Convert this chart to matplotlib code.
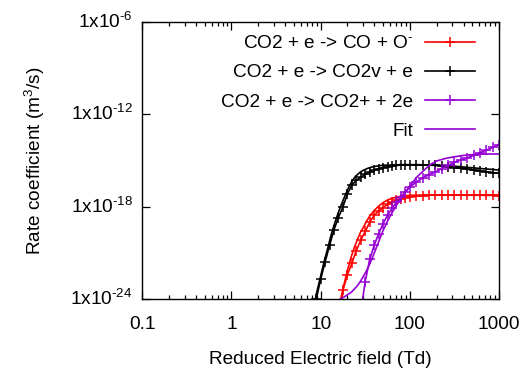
import numpy as np
import matplotlib
matplotlib.use("Agg")
import matplotlib.pyplot as plt
from matplotlib.ticker import FixedLocator, LogLocator, NullFormatter, NullLocator

plt.rcParams['font.family'] = ['Liberation Sans', 'DejaVu Sans']
plt.rcParams['mathtext.fontset'] = 'custom'
plt.rcParams['mathtext.rm'] = 'Liberation Sans'
plt.rcParams['mathtext.it'] = 'Liberation Sans:italic'
plt.rcParams['mathtext.default'] = 'regular'

# ---- data (reduced field in Td, rate coefficients as log10 of m^3/s) ----
E_data = [7.94, 8.91, 10.0, 11.2, 12.6, 14.1, 15.8, 17.8, 20.0, 22.4, 25.1, 28.2,
          31.6, 35.5, 39.8, 44.7, 50.1, 56.2, 63.1, 70.8, 79.4, 89.1, 100, 118,
          139, 164, 193, 228, 268, 316, 373, 439, 518, 611, 720, 848, 1000]
nan = np.nan
log_k_attach = [nan, nan, nan, nan, nan, nan, -26.0, -23.4, -22.4, -21.65, -20.85, -20.15,
                -19.6, -19.0, -18.55, -18.28, -18.05, -17.85, -17.7, -17.58, -17.48, -17.4, -17.34, -17.29,
                -17.27, -17.25, -17.24, -17.24, -17.24, -17.24, -17.24, -17.25, -17.25, -17.25, -17.26, -17.26, -17.27]
log_k_vib = [-27.0, -24.0, -22.7, -21.6, -20.5, -19.5, -18.7, -18.0, -17.15, -16.6, -16.28, -16.08,
             -15.9, -15.76, -15.63, -15.54, -15.47, -15.41, -15.36, -15.32, -15.30, -15.29, -15.28, -15.28,
             -15.29, -15.30, -15.32, -15.35, -15.39, -15.46, -15.51, -15.56, -15.62, -15.68, -15.73, -15.78, -15.83]
log_k_ion = [nan, nan, nan, nan, nan, nan, nan, nan, nan, nan, nan, -24.8,
             -22.85, -21.4, -20.5, -19.75, -19.1, -18.55, -18.1, -17.7, -17.35, -17.03, -16.73, -16.4,
             -16.13, -15.92, -15.74, -15.53, -15.32, -15.12, -14.96, -14.83, -14.67, -14.5, -14.33, -14.15, -13.97]

E_fit = [8.0, 8.5, 9, 10, 11, 12, 13, 14, 15, 16, 17, 18, 20, 22, 24, 26, 28, 30, 33, 36, 40,
         45, 50, 56, 63, 71, 80, 90, 100, 120, 140, 170, 200, 250, 300, 400, 500, 650, 800, 1000]
log_fit_vib = [-25.0, -24.3, -23.6, -22.5, -21.5, -20.7, -19.9, -19.27, -18.75, -18.28, -17.88, -17.53,
               -16.9, -16.43, -16.1, -15.9, -15.74, -15.64, -15.53, -15.45, -15.39, -15.34, -15.31, -15.3,
               -15.29, -15.28, -15.27, -15.27, -15.27, -15.27, -15.28, -15.29, -15.3, -15.33, -15.36,
               -15.42, -15.47, -15.53, -15.57, -15.62]
log_fit_attach = [nan, nan, nan, nan, nan, nan, nan, nan, nan, -24.4, -23.85, -23.2,
                  -22.1, -21.25, -20.6, -20.1, -19.65, -19.35, -18.9, -18.55, -18.23, -17.94, -17.73, -17.57,
                  -17.45, -17.37, -17.31, -17.28, -17.26, -17.25, -17.25, -17.25, -17.25, -17.25, -17.25,
                  -17.25, -17.25, -17.25, -17.25, -17.25]
log_fit_ion = [nan, nan, nan, nan, nan, nan, nan, nan, nan, -24.05, -23.95, -23.88,
               -23.7, -23.55, -23.32, -23.1, -22.82, -22.54, -22.1, -21.63, -20.98, -20.22, -19.55, -18.95,
               -18.4, -17.89, -17.45, -17.02, -16.65, -16.07, -15.7, -15.26, -15.03, -14.87, -14.78,
               -14.67, -14.62, -14.59, -14.58, -14.58]

labels = ['CO2 + e -> CO + O$^{\u2010}$', 'CO2 + e -> CO2v + e', 'CO2 + e -> CO2+ + 2e', 'Fit']
colors = ['#ff0000', '#000000', '#9400d3']

x_ticks = [0.1, 1, 10, 100, 1000]
x_ticklabels = ['0.1', '1', '10', '100', '1000']
y_ticks = [1e-24, 1e-18, 1e-12, 1e-6]
y_ticklabels = ['1x10$^{\u201024}$', '1x10$^{\u201018}$', '1x10$^{\u201012}$', '1x10$^{\u20106}$']

# ---- figure ----
W, H = 526, 370
fig = plt.figure(figsize=(W / 100, H / 100), dpi=100)
L, R, T, B = 142.3, 499.0, 21.7, 299.3
ax = fig.add_axes([L / W, (H - B) / H, (R - L) / W, (B - T) / H])

fs = 13.7
mk = dict(marker='+', markersize=7, markeredgewidth=1.1)
lw = 1.2

def k(v):
    return 10.0 ** np.asarray(v, dtype=float)

h1, = ax.plot(E_data, k(log_k_attach), color=colors[0], lw=lw, **mk)
ax.plot(E_fit, k(log_fit_attach), color=colors[0], lw=lw)
h2, = ax.plot(E_data, k(log_k_vib), color=colors[1], lw=lw, **mk)
ax.plot(E_fit, k(log_fit_vib), color=colors[1], lw=lw)
h3, = ax.plot(E_data, k(log_k_ion), color=colors[2], lw=lw, **mk)
h4, = ax.plot(E_fit, k(log_fit_ion), color=colors[2], lw=lw)

ax.set_xscale('log')
ax.set_yscale('log')
ax.set_xlim(0.1, 1000)
ax.set_ylim(1e-24, 1e-6)

ax.xaxis.set_major_locator(FixedLocator(x_ticks))
ax.set_xticklabels(x_ticklabels)
ax.xaxis.set_minor_locator(LogLocator(base=10, subs=np.arange(2, 10)))
ax.xaxis.set_minor_formatter(NullFormatter())
ax.yaxis.set_major_locator(FixedLocator(y_ticks))
ax.set_yticklabels(y_ticklabels)
ax.yaxis.set_minor_locator(NullLocator())

ax.tick_params(which='both', direction='in', top=True, right=True, labelsize=fs, width=0.9)
ax.tick_params(which='major', length=6)
ax.tick_params(which='minor', length=3)
ax.tick_params(axis='x', pad=12)
ax.tick_params(axis='y', pad=7)
for t in ax.get_yticklabels():
    t.set_verticalalignment('center')
for s in ax.spines.values():
    s.set_linewidth(1.0)

ax.set_xlabel('Reduced Electric field (Td)', fontsize=fs, labelpad=13)
ax.set_ylabel('Rate coefficient (m$^{3}$/s)', fontsize=fs, labelpad=17)

leg = ax.legend([h1, h2, h3, h4], labels, loc='upper right',
                bbox_to_anchor=(475 / W, (H - 35) / H), bbox_transform=fig.transFigure,
                frameon=False, markerfirst=False, fontsize=fs, handlelength=2.65,
                handletextpad=0.6, labelspacing=0.62, borderpad=0, borderaxespad=0)
for t in leg.get_texts():
    t.set_ha('right')

fig.savefig('out.png', dpi=100)
